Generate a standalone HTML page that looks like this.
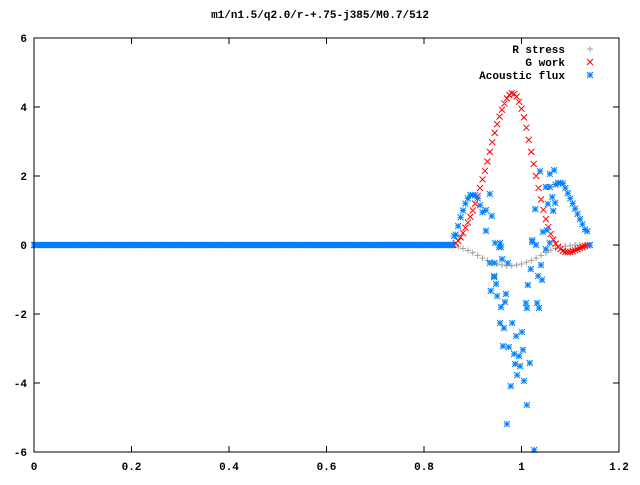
<!DOCTYPE html>
<html><head><meta charset="utf-8"><style>
body{margin:0;background:#fff}
svg text{font-family:"Liberation Mono",monospace;font-size:11px;font-weight:bold}
</style></head><body>
<svg id="c" width="640" height="480" xmlns="http://www.w3.org/2000/svg">
<rect width="640" height="480" fill="#fff"/>
<text x="320" y="18" text-anchor="middle">m1/n1.5/q2.0/r-+.75-j385/M0.7/512</text>
<g id="ticks"></g>
<g id="marks"></g>
<rect x="34" y="38" width="585" height="414" fill="none" stroke="#000" stroke-width="1"/>
<g id="legend"></g>
</svg>
<script>
const xTicks=[0,0.2,0.4,0.6,0.8,1,1.2];
const xTickLabels=["0","0.2","0.4","0.6","0.8","1","1.2"];
const yTicks=[-6,-4,-2,0,2,4,6];
const yTickLabels=["-6","-4","-2","0","2","4","6"];
const seriesNames=["R stress","G work","Acoustic flux"];
const rX=[0.86,0.87,0.88,0.89,0.9,0.91,0.92,0.93,0.94,0.95,0.96,0.97,0.98,0.99,1.0,1.01,1.02,1.03,1.04,1.05,1.06,1.07,1.08,1.09,1.1,1.11,1.12,1.13,1.14];
const rY=[0,-0.05,-0.1,-0.16,-0.22,-0.3,-0.38,-0.45,-0.5,-0.55,-0.58,-0.6,-0.6,-0.58,-0.55,-0.5,-0.45,-0.38,-0.3,-0.22,-0.15,-0.1,-0.05,-0.03,-0.02,0,0,0,0];
const gX=[0.86,0.865,0.87,0.875,0.88,0.885,0.89,0.895,0.9,0.905,0.91,0.915,0.92,0.925,0.93,0.935,0.94,0.945,0.95,0.955,0.96,0.965,0.97,0.975,0.98,0.985,0.99,0.995,1.0,1.005,1.01,1.015,1.02,1.025,1.03,1.035,1.04,1.045,1.05,1.055,1.06,1.065,1.07,1.075,1.08,1.085,1.09,1.095,1.1,1.105,1.11,1.115,1.12,1.125,1.13,1.135,1.14];
const gY=[0,0.05,0.12,0.22,0.35,0.5,0.65,0.82,1.0,1.2,1.42,1.65,1.9,2.15,2.42,2.7,2.98,3.25,3.5,3.72,3.92,4.1,4.25,4.35,4.4,4.38,4.3,4.15,3.95,3.7,3.4,3.05,2.7,2.35,2.0,1.65,1.32,1.02,0.75,0.52,0.32,0.16,0.04,-0.05,-0.12,-0.17,-0.2,-0.21,-0.2,-0.18,-0.15,-0.12,-0.09,-0.06,-0.03,-0.01,0];
const aX=[0.865,0.87,0.875,0.88,0.885,0.89,0.895,0.9,0.905,0.91,0.915,0.92,
1.07,1.075,1.08,1.085,1.09,1.095,1.1,1.105,1.11,1.115,1.12,1.125,1.13,1.135,1.14,
0.946,0.954,0.935,0.944,0.960,0.972,0.944,0.948,0.937,0.950,0.968,0.966,0.958,0.956,0.981,0.964,0.989,1.001,0.962,0.974,0.985,1.003,0.995,0.987,0.997,1.017,0.991,1.005,0.978,1.011,0.970,1.026,
1.022,1.030,1.050,1.058,1.019,1.040,1.034,1.042,1.013,1.009,1.011,1.032,1.036,
0.935,0.927,0.939,0.927,0.956,0.958,1.038,1.067,1.058,1.050,1.058,1.063,1.069,1.054,1.028,1.065,1.052,1.044,1.022,0.862,0.944];
const aY=[0.3,0.55,0.8,1.0,1.2,1.35,1.45,1.45,1.45,1.35,1.15,0.95,
1.75,1.8,1.8,1.78,1.65,1.5,1.35,1.2,1.05,0.9,0.75,0.6,0.45,0.4,0.0,
0.06,-0.06,-0.52,-0.52,-0.41,-0.52,-0.90,-1.13,-1.33,-1.48,-1.42,-1.65,-1.80,-2.26,-2.26,-2.41,-2.64,-2.52,-2.93,-2.96,-3.16,-3.04,-3.22,-3.45,-3.51,-3.42,-3.77,-3.94,-4.09,-4.64,-5.19,-5.94,
0.09,0,-0.12,0.06,-0.70,-0.58,-0.90,-1.01,-1.16,-1.68,-1.83,-1.68,-1.83,
1.48,1.01,0.84,0.41,0.06,-0.06,2.14,2.17,2.06,1.68,1.68,1.39,1.22,1.19,1.04,0.99,0.43,0.38,0.14,0.26,-0.93];
const flatCount=390;
const flatEnd=0.86;
const flatY=new Array(flatCount).fill(0);

const X=v=>34+v/1.2*585, Y=v=>245-v*34.5;
const NS="http://www.w3.org/2000/svg";
const ticks=document.getElementById('ticks'), marks=document.getElementById('marks'), leg=document.getElementById('legend');
function mk(tag,attrs,parent){const e=document.createElementNS(NS,tag);for(const k in attrs)e.setAttribute(k,attrs[k]);parent.appendChild(e);return e;}
xTicks.forEach((t,i)=>{
  const p=mk('path',{d:`M${X(t)},452v-6M${X(t)},38v6`,stroke:'#000'},ticks);
  
  
  const tx=mk('text',{x:X(t),y:470,'text-anchor':'middle'},ticks);tx.textContent=xTickLabels[i];
  
  
});
yTicks.forEach((t,i)=>{
  const p=mk('path',{d:`M34,${Y(t)}h6M619,${Y(t)}h-6`,stroke:'#000'},ticks);
  
  
  const tx=mk('text',{x:27,y:Y(t)+4,'text-anchor':'end'},ticks);tx.textContent=yTickLabels[i];
  
  
});
const shapes={plus:(x,y)=>`M${x-3},${y}h6M${x},${y-3}v6`,
 cross:(x,y)=>`M${x-3},${y-3}l6,6M${x-3},${y+3}l6,-6`,
 star:(x,y)=>`M${x-3},${y}h6M${x},${y-3}v6M${x-3},${y-3}l6,6M${x-3},${y+3}l6,-6`};
function series(xs,ys,shape,color,name){
  let d='';
  xs.forEach((x,i)=>{d+=shapes[shape](X(x),Y(ys[i]));});
  const p=mk('path',{d:d,stroke:color,'stroke-width':1,fill:'none'},marks);
  
  
}
const flatX=flatY.map((_,i)=>i*flatEnd/flatCount);
series(flatX,flatY,'plus','#a0a0a0','r-stress-flat');
series(rX,rY,'plus','#a0a0a0','r-stress-series');
series(gX,gY,'cross','#ff0000','g-work-series');
series(flatX,flatY,'star','#0080ff','acoustic-flux-flat');
series(aX,aY,'star','#0080ff','acoustic-flux-series');
const legShapes=['plus','cross','star'], legColors=['#a0a0a0','#ff0000','#0080ff'];
seriesNames.forEach((n,i)=>{
  const y=49+i*13;
  const t=mk('text',{x:565,y:y+4,'text-anchor':'end'},leg);t.textContent=n;
  
  
  const p=mk('path',{d:shapes[legShapes[i]](590,y),stroke:legColors[i],fill:'none'},leg);
  
  
});
</script>
</body></html>
